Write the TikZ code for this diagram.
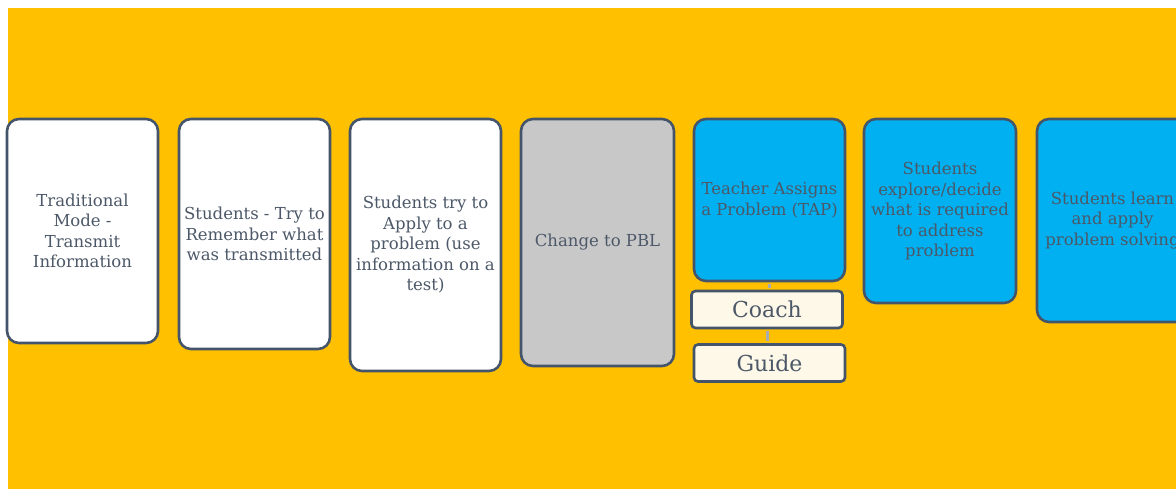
\documentclass[tikz,border=0pt]{standalone}
\usepackage{fontspec}
\setmainfont{DejaVu Serif}
\usetikzlibrary{positioning}
\definecolor{pblorange}{HTML}{FFC000}
\definecolor{pblblue}{HTML}{00B0F0}
\definecolor{pblgray}{HTML}{C8C8C8}
\definecolor{pblcream}{HTML}{FEF8E8}
\definecolor{pblline}{HTML}{44546A}
\definecolor{pbltext}{HTML}{4C5868}
\definecolor{pbllink}{HTML}{A8ACB0}
\tikzset{
    card/.style={draw=pblline, line width=2.6pt, rounded corners=12pt, minimum width=151pt,
        align=center, text=pbltext, inner sep=1pt, font=\fontsize{16.5}{20.5}\selectfont},
    tag/.style={draw=pblline, line width=2.6pt, rounded corners=4pt, fill=pblcream,
        minimum width=151pt, minimum height=37pt, inner sep=0pt, text=pbltext,
        font=\fontsize{22}{26}\selectfont},
    link/.style={draw=pbllink, line width=3pt, shorten <=2pt, shorten >=2pt}
}

\begin{document}
\begin{tikzpicture}[x=1pt,y=-1pt]

                % Draw background.
                \useasboundingbox (0,0) rectangle (1176,489);
                \fill[pblorange] (8,8) rectangle (1176,489);

                % Traditional steps.
                \node[card, fill=white, minimum height=224] (trad) at (82.5,231)
                    {Traditional\\Mode -\\Transmit\\Information};
                \node[card, fill=white, minimum height=230] (remember) at (254.5,234)
                    {Students - Try to\\Remember what\\was transmitted};
                \node[card, fill=white, minimum height=252] (apply) at (425.5,245)
                    {Students try to\\Apply to a\\problem (use\\information on a\\test)};
                \node[card, fill=pblgray, minimum width=153, minimum height=247] (change) at (597.5,242.5)
                    {Change to PBL};

                % PBL steps.
                \node[card, fill=pblblue, minimum height=162] (tap) at (769.5,200)
                    {Teacher Assigns\\a Problem (TAP)};
                \node[tag] (coach) at (767,309.5) {Coach};
                \node[tag] (guide) at (769.5,363) {Guide};
                \node[card, fill=pblblue, minimum width=152, minimum height=184] (explore) at (940,211)
                    {Students\\explore/decide\\what is required\\to address\\problem};
                \node[card, fill=pblblue, minimum height=203] (learn) at (1112.5,220.5)
                    {Students learn\\and apply\\problem solving};

                % Link teacher roles.
                \draw[link] (tap.south) -- (tap.south |- coach.north);
                \draw[link] (coach.south) -- (coach.south |- guide.north);
                \end{tikzpicture}
\end{document}
